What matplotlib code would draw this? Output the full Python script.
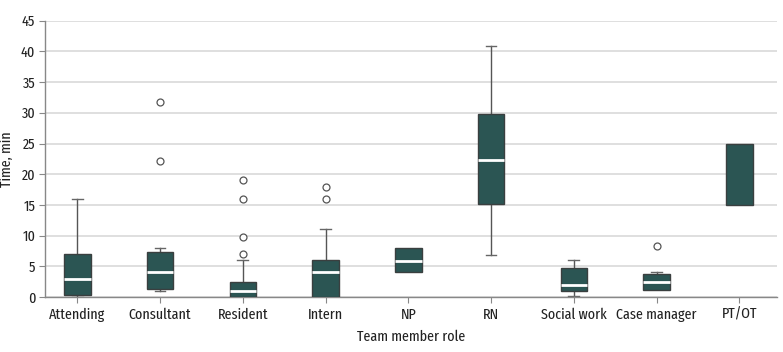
import matplotlib
matplotlib.use("Agg")
import matplotlib.pyplot as plt

roles = ["Attending", "Consultant", "Resident", "Intern", "NP", "RN",
         "Social work", "Case manager", "PT/OT"]
q1 = [0.3, 1.35, 0.0, 0.0, 4.0, 15.1, 1.0, 1.1, 15.0]
med = [3.0, 4.0, 1.0, 4.0, 5.9, 22.3, 1.95, 2.5, 15.0]
q3 = [7.0, 7.3, 2.4, 6.0, 8.0, 29.8, 4.7, 3.7, 25.0]
whislo = [0.0, 1.0, 0.0, 0.0, 4.0, 6.9, 0.2, 1.1, 15.0]
whishi = [16.0, 8.0, 6.0, 11.0, 8.0, 40.9, 6.0, 4.1, 25.0]
fliers = [[], [22.2, 31.7], [7.0, 9.8, 15.9, 19.0], [16.0, 17.9], [], [], [], [8.3], []]
yticks = [0, 5, 10, 15, 20, 25, 30, 35, 40, 45]

plt.rcParams['font.family'] = ['Fira Sans Extra Condensed', 'Fira Sans Condensed', 'DejaVu Sans']

fig = plt.figure(figsize=(7.83, 3.52), dpi=100)
ax = fig.add_axes([45/783, 1 - 297/352, (777-45)/783, (297-20.7)/352])

stats = []
for i, r in enumerate(roles):
    stats.append(dict(label=r, q1=q1[i], med=med[i], q3=q3[i],
                      whislo=whislo[i], whishi=whishi[i], fliers=fliers[i]))

box_c = "#2b5553"
res = ax.bxp(stats, positions=range(len(roles)), widths=0.32, patch_artist=True,
             showfliers=True,
             boxprops=dict(facecolor=box_c, edgecolor="#3a3f3f", linewidth=1.0),
             medianprops=dict(color="white", linewidth=2.0),
             whiskerprops=dict(color="#555555", linewidth=1.0),
             capprops=dict(color="#666666", linewidth=1.0),
             flierprops=dict(marker="o", markersize=5, markerfacecolor="white",
                             markeredgecolor="#555555", markeredgewidth=0.9),
             capwidths=0.13)
for b in res["boxes"]:
    b.set_zorder(3)
for i in range(len(roles)):
    res["medians"][i].set_zorder(4)
    if med[i] in (q1[i], q3[i]):
        res["medians"][i].set_visible(False)
    if whislo[i] >= q1[i]:
        res["caps"][2*i].set_visible(False)
        res["whiskers"][2*i].set_visible(False)
    if whishi[i] <= q3[i]:
        res["caps"][2*i+1].set_visible(False)
        res["whiskers"][2*i+1].set_visible(False)

ax.set_xlim(-0.39, 8.456)
ax.set_ylim(0, 45)
ax.set_yticks(yticks)
ax.set_xticks(range(len(roles)))
ax.set_xticklabels(roles)
ax.yaxis.grid(True, color="#dcdcdc", linewidth=1.3)
ax.set_axisbelow(True)
for s in ["top", "right"]:
    ax.spines[s].set_visible(False)
for s in ["left", "bottom"]:
    ax.spines[s].set_color("#888888")
    ax.spines[s].set_linewidth(1.0)
ax.tick_params(axis="both", colors="#888888", labelcolor="#222222", labelsize=11,
               length=4)
ax.tick_params(axis="y", pad=3)
ax.set_ylabel("Time, min", fontsize=11, color="#222222", labelpad=5)
ax.set_xlabel("Team member role", fontsize=11, color="#222222", labelpad=6)

fig.savefig("out.png", dpi=100)
